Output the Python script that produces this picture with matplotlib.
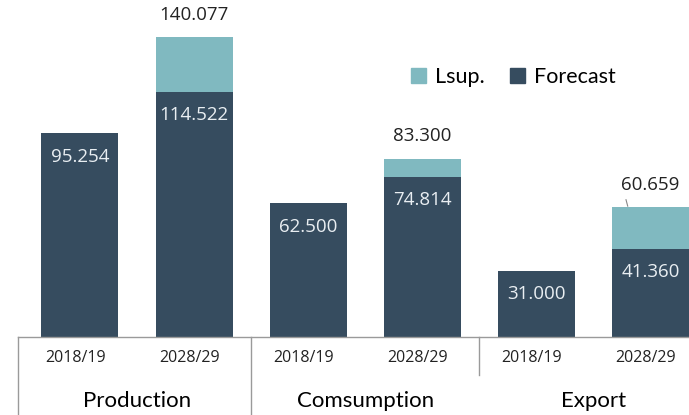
import matplotlib
matplotlib.use("Agg")
import matplotlib.pyplot as plt
from matplotlib.patches import Patch
import numpy as np

# ---- data ---------------------------------------------------------------
years = ["2018/19", "2028/29", "2018/19", "2028/29", "2018/19", "2028/29"]
groups = ["Production", "Comsumption", "Export"]
forecast = [95.254, 114.522, 62.500, 74.814, 31.000, 41.360]
total = [None, 140.077, None, 83.300, None, 60.659]
forecast_lbl = ["95.254", "114.522", "62.500", "74.814", "31.000", "41.360"]
total_lbl = ["", "140.077", "", "83.300", "", "60.659"]

DARK = "#364c5f"
TEAL = "#80b9c0"
GRID = "#9a9a9a"

fig = plt.figure(figsize=(6.89, 4.15), dpi=100)
ax = fig.add_axes([18 / 689, 1 - 337 / 415, 1 - 18 / 689, 337 / 415])
x = np.arange(len(forecast))
w = 0.675

sup = [0 if t is None else t - f for t, f in zip(total, forecast)]
ax.bar(x, forecast, w, color=DARK, zorder=2)
ax.bar(x, sup, w, bottom=forecast, color=TEAL, zorder=1)

ax.set_xlim(-0.543, 5.337)
ax.set_ylim(0, 157.5)
ax.axis("off")

for xi, f, lab in zip(x, forecast, forecast_lbl):
    ax.text(xi, f - 11, lab, ha="center", va="center", color="#e9eef2",
            fontsize=13.5, family="Open Sans", zorder=3)
for xi, t, lab in zip(x, total, total_lbl):
    if t is not None:
        ax.text(xi, t + 10.5, lab, ha="center", va="center", color="#222222",
                fontsize=13.5, family="Open Sans")
# small leader tick on the export label
ax.plot([x[5] - 0.2, x[5] - 0.215], [total[5] + 0.5, total[5] + 3.5],
        color="#888888", lw=0.8)

# ---- axis lines / separators ---------------------------------------------
ax.plot([0, 1], [0, 0], transform=ax.transAxes, color=GRID, lw=1,
        clip_on=False)
bot_full = -(415 - 337) / 337
bot_short = -(375 - 337) / 337
for xs, yb in [(ax.get_xlim()[0], bot_full), (1.5, bot_full), (3.5, bot_short)]:
    ax.plot([xs, xs], [0, yb], transform=ax.get_xaxis_transform(),
            color=GRID, lw=1, clip_on=False)

# ---- category labels -------------------------------------------------------
for xi, yr in zip(x, years):
    ax.text(xi - 0.04, -(358 - 337) / 337, yr,
            transform=ax.get_xaxis_transform(), ha="center", va="center",
            fontsize=11.5, family="Open Sans", color="#222222")
for gi, g in enumerate(groups):
    ax.text(2 * gi + 0.5, -(401 - 337) / 337, g,
            transform=ax.get_xaxis_transform(), ha="center", va="center",
            fontsize=16, family="Lato", color="#000000")

# ---- legend ----------------------------------------------------------------
handles = [Patch(color=TEAL, label="Lsup."), Patch(color=DARK, label="Forecast")]
leg = ax.legend(handles=handles, loc="center", bbox_to_anchor=(0.738, 0.772),
                ncol=2, frameon=False, handlelength=0.7, handleheight=0.7,
                handletextpad=0.4, columnspacing=1.2,
                prop={"family": "Lato", "size": 15.5})

fig.savefig("out.png", dpi=100, facecolor="white")
